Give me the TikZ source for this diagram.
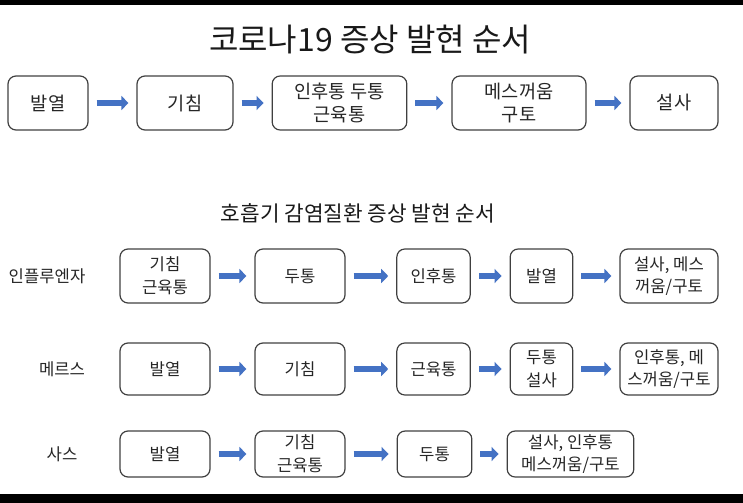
\documentclass[tikz,border=0pt]{standalone}
\usepackage{fontspec}
\setmainfont{Noto Sans CJK KR}
\usetikzlibrary{arrows.meta}
\definecolor{flowblue}{HTML}{4472C4}
\tikzset{
  stage/.style={draw=black!75, line width=0.9pt, rounded corners=6pt, align=center,
    inner sep=0pt, text=black!85, font=\fontsize{12.5}{17}\selectfont},
  go/.style={draw=flowblue, line width=5pt, shorten <=6pt, shorten >=6pt,
    -{Triangle[length=5.25pt,width=10.5pt]}},
  disease/.style={text=black!85, font=\fontsize{12.5}{14}\selectfont},
}
\begin{document}
\begin{tikzpicture}[x=0.75pt, y=-0.75pt]
    \useasboundingbox (0,0) rectangle (743,503);
    \fill[black] (0,0) rectangle (743,5);
    \fill[black] (0,494) rectangle (743,503);
    \node (title) at (370,40) [font=\fontsize{24}{28}\selectfont, text=black!90] {코로나19 증상 발현 순서};
    % covid row
    \node(c-1)[stage, minimum width=60pt, minimum height=40.5pt] at (48,103) {\fontsize{14}{17.5}\selectfont 발열};
    \node(c-2)[stage, minimum width=72pt, minimum height=40.5pt] at (185,103) {\fontsize{14}{17.5}\selectfont 기침};
    \node(c-3)[stage, minimum width=101pt, minimum height=40.5pt] at (339.5,103) {\fontsize{14}{17.5}\selectfont 인후통 두통\\\fontsize{14}{17.5}\selectfont 근육통};
    \node(c-4)[stage, minimum width=100.5pt, minimum height=40.5pt] at (519,103) {\fontsize{14}{17.5}\selectfont 메스꺼움\\\fontsize{14}{17.5}\selectfont 구토};
    \node(c-5)[stage, minimum width=66pt, minimum height=40.5pt] at (674,103) {\fontsize{14}{17.5}\selectfont 설사};
    \foreach \a/\b in {1/2,2/3,3/4,4/5}
      \draw[go] (c-\a) -- (c-\b);
    \node (subtitle) at (358,213) [font=\fontsize{16}{19}\selectfont, text=black!90] {호흡기 감염질환 증상 발현 순서};
    % influenza
    \node(flu)[disease] at (47,276) {인플루엔자};
    \node(i-1)[stage, minimum width=67.5pt, minimum height=40.5pt] at (165,276) {기침\\근육통};
    \node(i-2)[stage, minimum width=67.5pt, minimum height=40.5pt] at (300,276) {두통};
    \node(i-3)[stage, minimum width=55pt, minimum height=40.5pt] at (433.5,276) {인후통};
    \node(i-4)[stage, minimum width=47pt, minimum height=40.5pt] at (541.5,276) {발열};
    \node(i-5)[stage, minimum width=73.5pt, minimum height=40.5pt] at (669,276) {설사, 메스\\꺼움/구토};
    % mers
    \node(mers)[disease] at (62,369) {메르스};
    \node(m-1)[stage, minimum width=67.5pt, minimum height=39pt] at (165,369) {발열};
    \node(m-2)[stage, minimum width=67.5pt, minimum height=39pt] at (300,369) {기침};
    \node(m-3)[stage, minimum width=55pt, minimum height=39pt] at (433.5,369) {근육통};
    \node(m-4)[stage, minimum width=47pt, minimum height=39pt] at (541.5,369) {두통\\설사};
    \node(m-5)[stage, minimum width=73.5pt, minimum height=39pt] at (669,369) {인후통, 메\\스꺼움/구토};
    % sars
    \node(sars)[disease] at (62,454) {사스};
    \node(s-1)[stage, minimum width=67.5pt, minimum height=34.5pt] at (165,454) {발열};
    \node(s-2)[stage, minimum width=67.5pt, minimum height=34.5pt] at (300,454) {기침\\근육통};
    \node(s-3)[stage, minimum width=56pt, minimum height=34.5pt] at (434.5,454) {두통};
    \node(s-4)[stage, minimum width=95pt, minimum height=34.5pt] at (570.5,454) {설사, 인후통\\메스꺼움/구토};
    \foreach \a/\b in {1/2,2/3,3/4,4/5}{
      \draw[go] (i-\a) -- (i-\b);
      \draw[go] (m-\a) -- (m-\b);
    }
    \foreach \a/\b in {1/2,2/3,3/4}
      \draw[go] (s-\a) -- (s-\b);
\end{tikzpicture}
\end{document}
